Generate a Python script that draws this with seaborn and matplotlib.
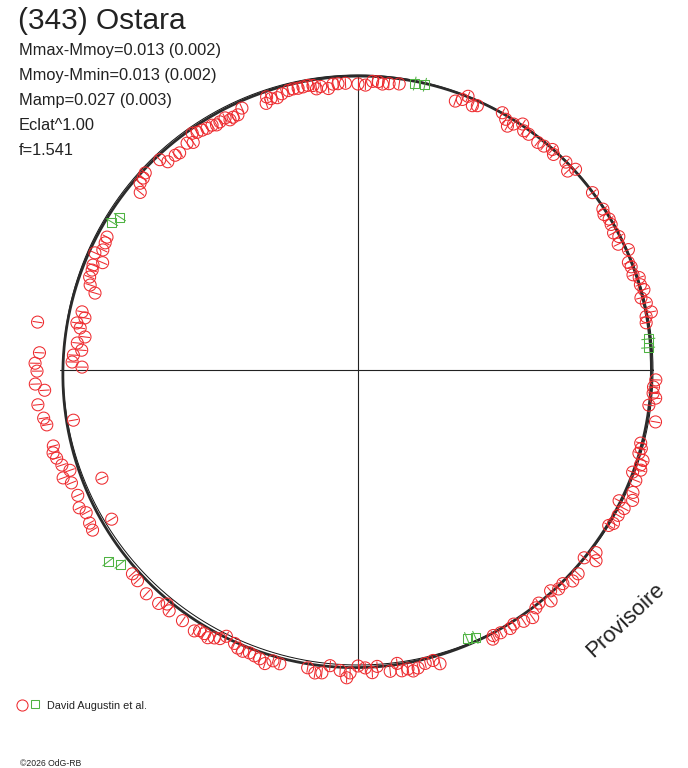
import numpy as np
import pandas as pd
import matplotlib
matplotlib.use("Agg")
import matplotlib.pyplot as plt
from matplotlib.collections import LineCollection
import seaborn as sns

# phase angle (degrees, counter-clockwise from the right) and radial residual
# (1 unit = 1/295 of the mean circle radius) for each observation
red_angle = [
    109.0, 108.5, 107.8, 106.5, 105.4, 104.0, 103.0, 102.0, 101.0, 100.0, 99.0, 98.4,
    97.5, 96.0, 95.0, 94.0, 92.5, 90.0, 88.5, 87.1, 86.0, 85.1, 83.8, 81.8,
    70.1, 68.9, 68.1, 66.6, 65.7, 60.7, 59.5, 58.5, 57.7, 56.2, 55.3, 54.1,
    51.7, 50.3, 48.6, 47.8, 45.0, 43.5, 42.7,
    37.1, 33.3, 32.3, 31.0, 29.9, 28.2, 27.1, 25.8, 24.0, 21.7, 20.7, 19.1,
    18.2, 16.8, 15.7, 14.3, 13.1, 11.2, 10.5, 9.3,
    -1.9, -3.3, -4.5, -5.4, -6.9, -9.9, -14.5, -15.5, -16.5, -17.6, -18.6, -20.4,
    -19.5, -21.7, -24.0, -26.6, -25.4, -27.5, -29.2, -31.8, -31.0,
    -39.7, -37.5, -38.7, -42.8, -44.5, -46.2, -47.5, -48.9, -50.1, -52.2, -53.2,
    -54.8, -56.6, -58.5, -59.5, -61.5, -63.0, -63.4,
    -74.4, -75.5, -77.1, -78.6, -79.6, -80.5, -81.7, -82.4, -83.9, -86.3, -87.3,
    -88.6, -90.0, -91.5, -92.1, -93.4, -95.4, -96.8, -98.1, -99.6,
    222.1, 223.7, 226.6, 229.5, 230.8, 231.9, 235.0, 237.9, 238.7, 239.8, 240.7,
    241.8, 242.8, 243.7, 245.7, 246.6, 247.7, 249.0, 250.1, 251.2, 252.4, 253.7, 255.1,
    190.0, 194.0, 195.2, 196.3, 197.8, 199.2, 200.1, 201.5, 204.1, 206.3, 207.7,
    209.7, 211.1, 202.9, 211.2, 190.0,
    171.5, 176.9, 178.8, 180.2, 182.5, 183.7, 186.2, 188.7,
    168.1, 169.2, 170.5, 171.4, 173.1, 174.5, 175.9, 177.0, 178.4, 179.4,
    152.1, 153.3, 154.8, 156.0, 157.2, 158.4, 159.4, 160.9, 162.4, 163.7,
    113.9, 115.2, 116.3, 117.1, 117.8, 119.1, 120.0, 120.8, 122.0, 123.0, 124.1,
    125.0, 125.9, 127.0, 129.4, 130.4, 132.4, 133.3, 137.2, 138.2, 139.4, 140.8,
]
red_resid = [
    -13, -7, -10, -11, -8.5, -7, -6.5, -7, -6.6, -6, -7, -10.8,
    -9, -12, -8, -8, -8, -9, -10, -6, -6, -8, -7, -6,
    -9, -5, 0, -7, -5, 0, -4, -9, -4, 1, -4, -4,
    -5, -4, -1, -4, -1, -6, 1,
    -1, -2, -4, -2, -3, -5, -2, -6, 1, -4, -3, -4,
    1, 0, 2, -3, 1, 4, -2, -3,
    3, 1, 1, 4, -2, 7, -3, -1, -2, 4, 3, -2,
    5, 4, 6, -3, 9, 5, 3, 0, 3,
    -1, 5, 10, 5, 6, 1, 2, -2, 6, 0, 2,
    8, 6, 3, 5, 4, 3, 6,
    10, 5, 6, 9, 11, 8, 9, 1, 8, 2, 8,
    3, 1, 8, 13, 6, 2, 10, 11, 7,
    9, 10, 13, 12, 7, 11, 11, 13, 10, 10, 12,
    9, 7, 2, 5, 8, 9, 8, 9, 10, 13, 8, 9,
    21, 19, 21, 19, 16, 10, 19, 13, 12, 16, 12,
    14, 15, -17, -7, -6,
    29, 24, 28, 26, 28, 19, 27, 23,
    -13, -17, -10, -14, -20, -13, -18, -10, -9, -19,
    -11, -12, -13, -7, -18, -10, -11, -11, -14, -21,
    -8.5, -13, -13, -14, -10, -11, -12, -10, -10, -9, -8,
    -6, -14, -11, -14, -13, -13, -6, -5, -7, -8, -14,
]
green_angle = [78.8, 76.8, 149.0, 147.3, 6.1, 4.4, 217.5, 219.2, -67.9, -66.3]
green_resid = [-3, -2, -8, -12, -3, -4, 20, 12, -5, -3]

RED_ERR = 5.0
GREEN_ERR = 7.0

# Fourier fit of the light curve (same radial units)
fit_a1, fit_p1 = 2.0, 245.0
fit_a2, fit_p2 = 1.5, 60.0

title = "(343) Ostara"
info_lines = ["Mmax-Mmoy=0.013 (0.002)", "Mmoy-Mmin=0.013 (0.002)",
              "Mamp=0.027 (0.003)", "Eclat^1.00", "f=1.541"]
observer = "David Augustin et al."
credit = "\u00a92026 OdG-RB"

RED = "#ee2a2e"
GREEN = "#4fb342"
R_UNIT = 1 / 295.0


def to_xy(df, err):
    t = np.radians(df["angle"])
    r = 1 + df["resid"] * R_UNIT
    df["x"] = r * np.cos(t)
    df["y"] = r * np.sin(t)
    r0 = r - err * R_UNIT
    r1 = r + err * R_UNIT
    segs = [[(a * np.cos(b), a * np.sin(b)), (c * np.cos(b), c * np.sin(b))]
            for a, c, b in zip(r0, r1, t)]
    return df, segs


sns.set_style("white")
plt.rcParams["font.family"] = ["Liberation Sans", "DejaVu Sans"]

W, H = 688, 768
fig = plt.figure(figsize=(W / 100, H / 100), dpi=100)
ax = fig.add_axes([0, 0, 1, 1])
ax.axis("off")

# cross hairs
ax.plot([-1.01, 1.0], [0, 0], color="#222222", lw=0.8, zorder=1)
ax.plot([0, 0], [-1.0, 0.995], color="#222222", lw=0.8, zorder=1)

# mean circle and fitted curve
th = np.linspace(0, 2 * np.pi, 721)
ax.plot(np.cos(th), np.sin(th), color="#111111", lw=0.7, zorder=2)
deg = np.degrees(th)
rf = 1 + R_UNIT * (fit_a1 * np.cos(np.radians(deg - fit_p1))
                   + fit_a2 * np.cos(np.radians(2 * (deg - fit_p2))))
ax.plot(rf * np.cos(th), rf * np.sin(th), color="#2b2b2b", lw=2.0, zorder=2)

red = pd.DataFrame({"angle": red_angle, "resid": red_resid})
green = pd.DataFrame({"angle": green_angle, "resid": green_resid})
red, red_segs = to_xy(red, RED_ERR)
green, green_segs = to_xy(green, GREEN_ERR)

ax.add_collection(LineCollection(red_segs, colors=RED, linewidths=0.75, zorder=3))
ax.add_collection(LineCollection(green_segs, colors=GREEN, linewidths=0.75, zorder=3))

sns.scatterplot(data=red, x="x", y="y", ax=ax, marker="o", s=75,
                facecolor="none", edgecolor=RED, linewidth=0.75, zorder=4)
sns.scatterplot(data=green, x="x", y="y", ax=ax, marker="s", s=42,
                facecolor="none", edgecolor=GREEN, linewidth=0.75, zorder=4)
ax.set_xlim(-358 / 295, 330 / 295)
ax.set_ylim(-398 / 295, 370 / 295)
ax.axis("off")

# texts
fig.text(18 / W, 1 - 29 / H, title, fontsize=21.5, color="#222222", va="baseline")
for i, line in enumerate(info_lines):
    fig.text(19 / W, 1 - (55 + 25 * i) / H, line, fontsize=11.8, color="#222222",
             va="baseline")
fig.text(625 / W, 1 - 620 / H, "Provisoire", fontsize=16, color="#222222",
         rotation=43, ha="center", va="center", rotation_mode="anchor")

# legend
fig.add_artist(plt.Line2D([22 / W], [1 - 705 / H], marker="o", ms=8, mfc="none",
                          mec=RED, mew=0.75, transform=fig.transFigure))
fig.add_artist(plt.Line2D([35 / W], [1 - 704 / H], marker="s", ms=6.2, mfc="none",
                          mec=GREEN, mew=0.75, transform=fig.transFigure))
fig.text(47 / W, 1 - 709 / H, observer, fontsize=7.8, color="#222222",
         va="baseline")
fig.text(20 / W, 1 - 766 / H, credit, fontsize=6.2, color="#222222",
         va="baseline")

fig.savefig("out.png", dpi=100, facecolor="white")
